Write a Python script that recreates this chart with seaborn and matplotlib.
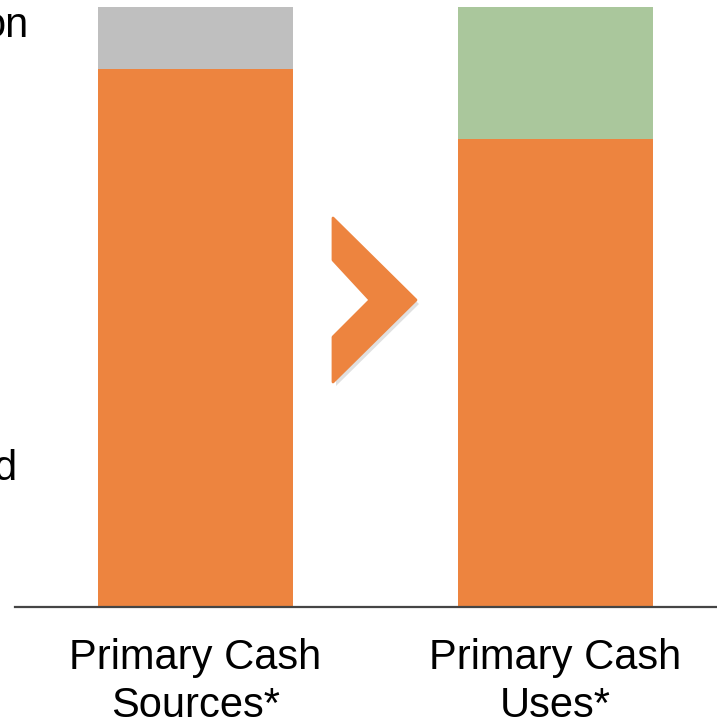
import matplotlib
matplotlib.use("Agg")
import matplotlib.pyplot as plt
import seaborn as sns
import pandas as pd
from matplotlib.patches import Polygon

categories = ["Primary Cash\nSources*", "Primary Cash\nUses*"]
base_values = [89.6, 78.0]      # orange segment
top_values = [10.4, 22.0]       # gray / green segment
totals = [b + t for b, t in zip(base_values, top_values)]

ORANGE = "#ED843F"
GRAY = "#BFBFBF"
GREEN = "#AAC79C"

sns.set_theme(style="white")
plt.rcParams["font.family"] = ["Liberation Sans", "DejaVu Sans"]

W, H = 717, 723
fig = plt.figure(figsize=(W / 100, H / 100), dpi=100)
ax = fig.add_axes([15 / W, (H - 606.5) / H, (W - 15) / W, (606.5 - 7) / H])

df = pd.DataFrame({"cat": categories, "total": totals, "base": base_values})

sns.barplot(data=df, x="cat", y="total", hue="cat", palette=[GRAY, GREEN],
            width=0.54, legend=False, ax=ax, saturation=1)
sns.barplot(data=df, x="cat", y="base", color=ORANGE, width=0.54,
            ax=ax, saturation=1)

for p in ax.patches:
    p.set_linewidth(0)

ax.set_ylim(0, 100)
ax.set_xlim(-0.501, 1.449)
ax.set_xlabel("")
ax.set_ylabel("")
ax.set_yticks([])
ax.tick_params(axis="x", length=0, pad=23, labelsize=30, labelcolor="black")
for lab in ax.get_xticklabels():
    lab.set_linespacing(1.25)
for s in ["top", "left", "right"]:
    ax.spines[s].set_visible(False)
ax.spines["bottom"].set_color("#454545")
ax.spines["bottom"].set_linewidth(1.6)

# partial left-side annotations (cropped in reference)
fig.text(28 / W, (H - 37) / H, "on", ha="right", va="baseline", fontsize=30, color="black")
fig.text(16 / W, (H - 480) / H, "d", ha="right", va="baseline", fontsize=30, color="black")

# chevron arrow between the bars
pts_px = [(333, 218), (416, 300), (333, 382), (333, 337), (370, 300), (333, 260)]
shadow = Polygon([((x + 3) / W, (H - y - 4) / H) for x, y in pts_px], closed=True,
                 transform=fig.transFigure, facecolor="#000000", alpha=0.12,
                 edgecolor="none", joinstyle="round")
fig.patches.append(shadow)
chev = Polygon([(x / W, (H - y) / H) for x, y in pts_px], closed=True,
               transform=fig.transFigure, facecolor=ORANGE, edgecolor=ORANGE,
               linewidth=2, joinstyle="round")
fig.patches.append(chev)

fig.savefig("out.png", dpi=100)
